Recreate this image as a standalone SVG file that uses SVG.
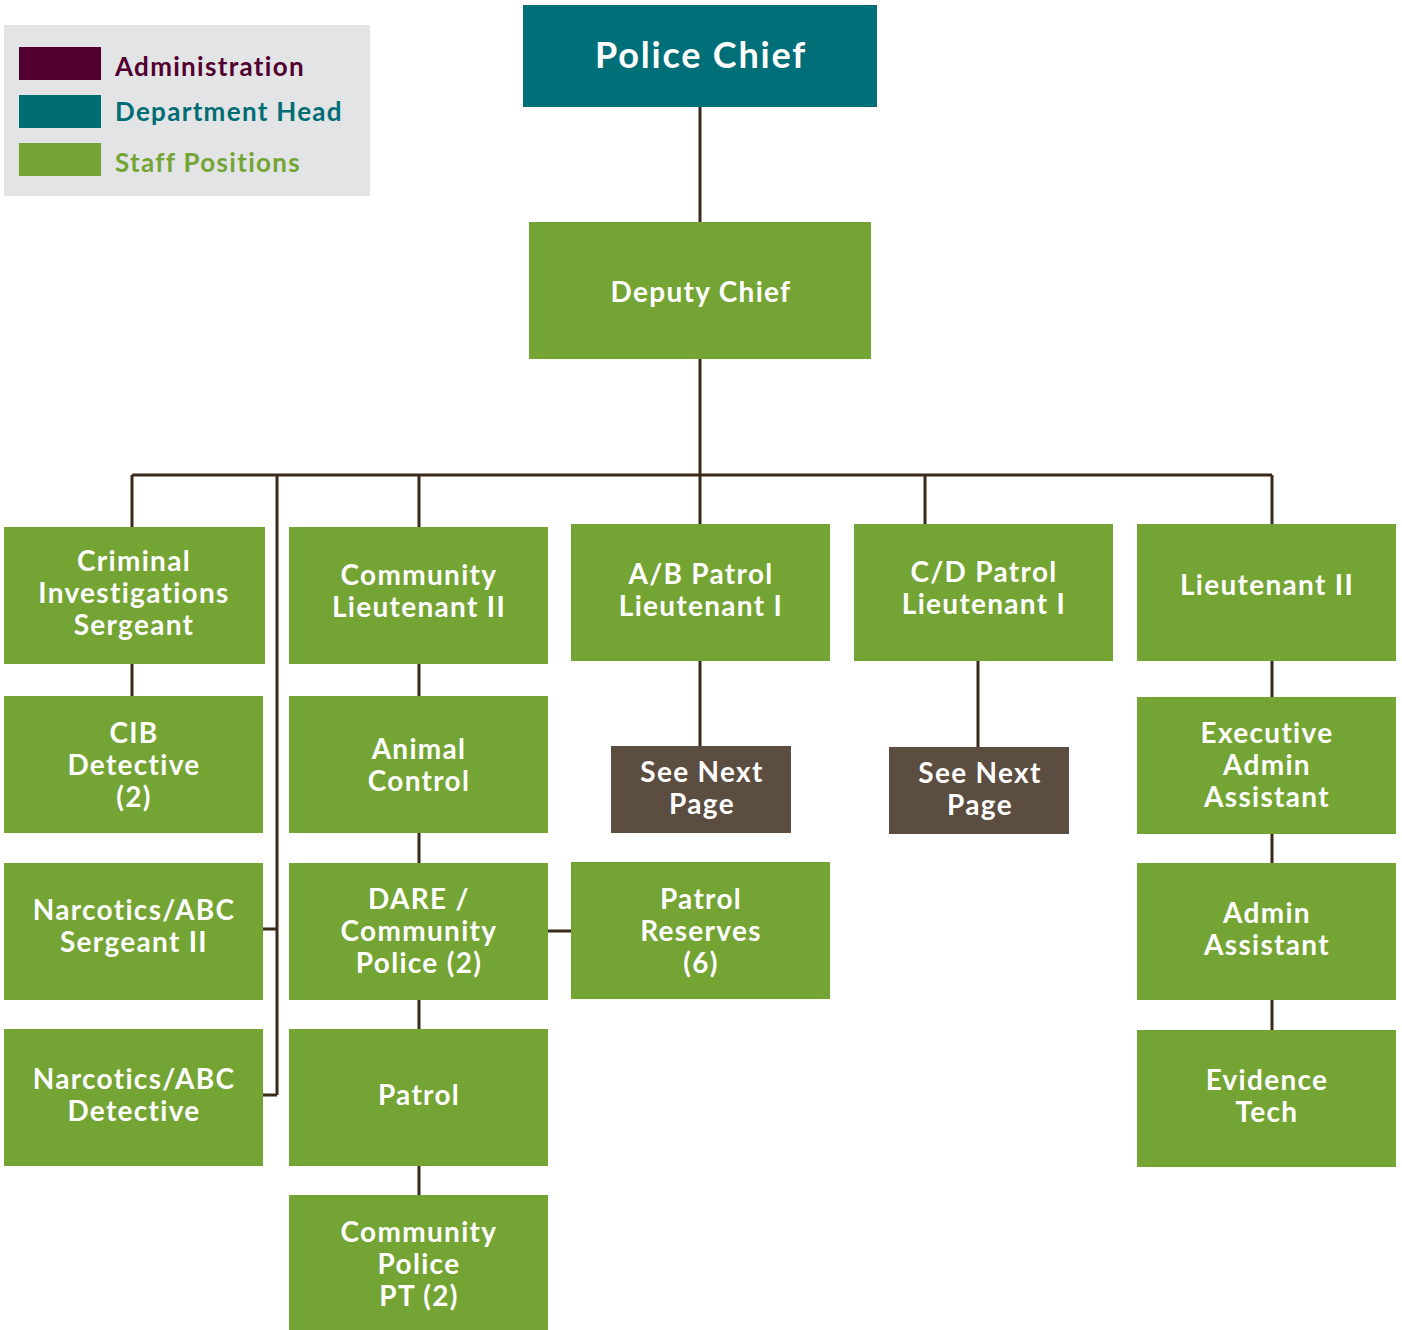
<svg xmlns="http://www.w3.org/2000/svg" width="1402" height="1330" viewBox="0 0 1402 1330">
<style>
.staff{fill:#74a433}
.head{fill:#006f77}
.next{fill:#5b4d40}
.t{font-family:Lato,"Open Sans",sans-serif;font-weight:700;font-size:28px;fill:#ffffff;text-anchor:middle;letter-spacing:1.3px}
.lg{font-family:Lato,"Open Sans",sans-serif;font-weight:700;font-size:26px;letter-spacing:1.3px}
.c{fill:none;stroke:#3a2a1a;stroke-width:3}
</style>
<rect width="1402" height="1330" fill="#ffffff"/>
<g id="legend">
<rect x="4" y="25" width="366" height="171" fill="#e3e4e6"/>
<rect x="19" y="47" width="82" height="33" fill="#520030"/>
<rect x="19" y="95" width="82" height="33" fill="#006d75"/>
<rect x="19" y="143" width="82" height="33" fill="#74a433"/>
<text class="lg" x="115" y="76" fill="#520030">Administration</text>
<text class="lg" x="115" y="121" fill="#006d75">Department Head</text>
<text class="lg" x="115" y="172" fill="#74a433">Staff Positions</text>
</g>
<g id="connectors">
<path class="c" d="M700 107V222M700 359V475M132 475H1272M132 475V527M277 475V1095M419 475V527M700 475V524M925 475V524M1272 475V524"/>
<path class="c" d="M132 664V696M263 929H277M263 1095H277"/>
<path class="c" d="M419 664V696M419 833V863M419 1000V1029M419 1166V1195M548 931H571"/>
<path class="c" d="M700 661V746M978 661V747"/>
<path class="c" d="M1272 661V697M1272 834V863M1272 1000V1030"/>
</g>
<g id="police-chief"><rect class="head" x="523" y="5" width="354" height="102"/><text class="t" x="701" y="68" style="font-size:36px;letter-spacing:1.8px">Police Chief</text></g>
<g id="deputy-chief"><rect class="staff" x="529" y="222" width="342" height="137"/><text class="t" x="701" y="302">Deputy Chief</text></g>
<g id="criminal-investigations"><rect class="staff" x="4" y="527" width="261" height="137"/><text class="t" x="134" y="571">Criminal</text><text class="t" x="134" y="603">Investigations</text><text class="t" x="134" y="635">Sergeant</text></g>
<g id="community-lieutenant"><rect class="staff" x="289" y="527" width="259" height="137"/><text class="t" x="419" y="585">Community</text><text class="t" x="419" y="617">Lieutenant II</text></g>
<g id="ab-patrol"><rect class="staff" x="571" y="524" width="259" height="137"/><text class="t" x="701" y="584">A/B Patrol</text><text class="t" x="701" y="616">Lieutenant I</text></g>
<g id="cd-patrol"><rect class="staff" x="854" y="524" width="259" height="137"/><text class="t" x="984" y="582">C/D Patrol</text><text class="t" x="984" y="614">Lieutenant I</text></g>
<g id="lieutenant-ii"><rect class="staff" x="1137" y="524" width="259" height="137"/><text class="t" x="1267" y="595">Lieutenant II</text></g>
<g id="cib-detective"><rect class="staff" x="4" y="696" width="259" height="137"/><text class="t" x="134" y="743">CIB</text><text class="t" x="134" y="775">Detective</text><text class="t" x="134" y="807">(2)</text></g>
<g id="narcotics-sergeant"><rect class="staff" x="4" y="863" width="259" height="137"/><text class="t" x="134" y="920">Narcotics/ABC</text><text class="t" x="134" y="952">Sergeant II</text></g>
<g id="narcotics-detective"><rect class="staff" x="4" y="1029" width="259" height="137"/><text class="t" x="134" y="1089">Narcotics/ABC</text><text class="t" x="134" y="1121">Detective</text></g>
<g id="animal-control"><rect class="staff" x="289" y="696" width="259" height="137"/><text class="t" x="419" y="759">Animal</text><text class="t" x="419" y="791">Control</text></g>
<g id="dare"><rect class="staff" x="289" y="863" width="259" height="137"/><text class="t" x="419" y="909">DARE /</text><text class="t" x="419" y="941">Community</text><text class="t" x="419" y="973">Police (2)</text></g>
<g id="patrol"><rect class="staff" x="289" y="1029" width="259" height="137"/><text class="t" x="419" y="1105">Patrol</text></g>
<g id="community-police-pt"><rect class="staff" x="289" y="1195" width="259" height="135"/><text class="t" x="419" y="1242">Community</text><text class="t" x="419" y="1274">Police</text><text class="t" x="419" y="1306">PT (2)</text></g>
<g id="see-next-1"><rect class="next" x="611" y="746" width="180" height="87"/><text class="t" x="702" y="782">See Next</text><text class="t" x="702" y="814">Page</text></g>
<g id="patrol-reserves"><rect class="staff" x="571" y="862" width="259" height="137"/><text class="t" x="701" y="909">Patrol</text><text class="t" x="701" y="941">Reserves</text><text class="t" x="701" y="973">(6)</text></g>
<g id="see-next-2"><rect class="next" x="889" y="747" width="180" height="87"/><text class="t" x="980" y="783">See Next</text><text class="t" x="980" y="815">Page</text></g>
<g id="exec-admin"><rect class="staff" x="1137" y="697" width="259" height="137"/><text class="t" x="1267" y="743">Executive</text><text class="t" x="1267" y="775">Admin</text><text class="t" x="1267" y="807">Assistant</text></g>
<g id="admin-assistant"><rect class="staff" x="1137" y="863" width="259" height="137"/><text class="t" x="1267" y="923">Admin</text><text class="t" x="1267" y="955">Assistant</text></g>
<g id="evidence-tech"><rect class="staff" x="1137" y="1030" width="259" height="137"/><text class="t" x="1267" y="1090">Evidence</text><text class="t" x="1267" y="1122">Tech</text></g>
</svg>
